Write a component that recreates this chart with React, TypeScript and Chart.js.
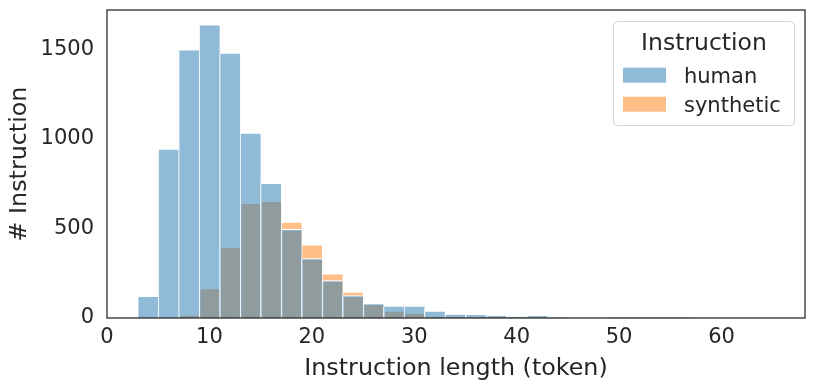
import React, { useEffect, useRef } from "react";
import { Chart, registerables } from "chart.js";

Chart.register(...registerables);

const binCenters = [4, 6, 8, 10, 12, 14, 16, 18, 20, 22, 24, 26, 28, 30, 32, 34, 36, 38, 40, 42, 44, 46, 48, 50, 52, 54, 56, 58, 60, 62, 64];
const humanCounts = [121, 943, 1497, 1637, 1480, 1032, 752, 495, 332, 209, 125, 80, 67, 67, 39, 22, 21, 15, 9, 15, 5, 1, 1, 4, 4, 4, 4, 1, 1, 0, 1];
const syntheticCounts = [0, 0, 17, 164, 394, 640, 652, 536, 409, 246, 145, 78, 39, 28, 11, 9, 5, 4, 2, 3, 3, 1, 1, 4, 4, 4, 4, 1, 1, 0, 1];
const xTicks = [0, 10, 20, 30, 40, 50, 60];
const yTicks = [0, 500, 1000, 1500];
const seriesNames = ["human", "synthetic"];
const legendTitle = "Instruction";
const xTitle = "Instruction length (token)";
const yTitle = "# Instruction";

const FONT = "'DejaVu Sans', sans-serif";
const TEXT = "#262626";
const BLUE = "rgba(31,119,180,0.5)";
const ORANGE = "rgba(255,127,14,0.5)";

const framePlugin = {
  id: "frame",
  afterDraw(chart: any) {
    const { ctx, chartArea } = chart;
    ctx.save();
    ctx.strokeStyle = TEXT;
    ctx.lineWidth = 1.25;
    ctx.strokeRect(chartArea.left, chartArea.top, chartArea.right - chartArea.left, chartArea.bottom - chartArea.top);
    ctx.restore();
  },
};

const legendPlugin = {
  id: "customLegend",
  afterDraw(chart: any) {
    const ctx = chart.ctx;
    ctx.save();
    const x0 = 613.5, y0 = 21.5, w = 181, h = 104, r = 4;
    ctx.beginPath();
    ctx.moveTo(x0 + r, y0);
    ctx.lineTo(x0 + w - r, y0);
    ctx.quadraticCurveTo(x0 + w, y0, x0 + w, y0 + r);
    ctx.lineTo(x0 + w, y0 + h - r);
    ctx.quadraticCurveTo(x0 + w, y0 + h, x0 + w - r, y0 + h);
    ctx.lineTo(x0 + r, y0 + h);
    ctx.quadraticCurveTo(x0, y0 + h, x0, y0 + h - r);
    ctx.lineTo(x0, y0 + r);
    ctx.quadraticCurveTo(x0, y0, x0 + r, y0);
    ctx.closePath();
    ctx.fillStyle = "rgba(255,255,255,0.8)";
    ctx.fill();
    ctx.strokeStyle = "#d6d6d6";
    ctx.lineWidth = 1;
    ctx.stroke();

    ctx.fillStyle = TEXT;
    ctx.textBaseline = "alphabetic";
    ctx.textAlign = "center";
    ctx.font = `23.5px ${FONT}`;
    ctx.fillText(legendTitle, x0 + w / 2, 50);

    const colors = ["rgb(143,187,217)", "rgb(255,191,134)"];
    const baselines = [82.7, 111.7];
    ctx.textAlign = "left";
    ctx.font = `21px ${FONT}`;
    seriesNames.forEach((name, i) => {
      ctx.fillStyle = colors[i];
      ctx.fillRect(623, baselines[i] - 15, 43, 15);
      ctx.fillStyle = TEXT;
      ctx.fillText(name, 684, baselines[i]);
    });
    ctx.restore();
  },
};

export default function App() {
  const ref = useRef<HTMLCanvasElement | null>(null);

  useEffect(() => {
    if (!ref.current) return;
    const chart = new Chart(ref.current, {
      type: "bar",
      data: {
        datasets: [
          {
            label: seriesNames[0],
            data: binCenters.map((x, i) => ({ x, y: humanCounts[i] })),
            backgroundColor: BLUE,
            borderColor: "#ffffff",
            borderWidth: { top: 1, left: 1, right: 0, bottom: 0 },
            borderSkipped: false,
            grouped: false,
            barPercentage: 1,
            categoryPercentage: 1,
          },
          {
            label: seriesNames[1],
            data: binCenters.map((x, i) => ({ x, y: syntheticCounts[i] })),
            backgroundColor: ORANGE,
            borderColor: "#ffffff",
            borderWidth: { top: 1, left: 1, right: 0, bottom: 0 },
            borderSkipped: false,
            grouped: false,
            barPercentage: 1,
            categoryPercentage: 1,
          },
        ],
      } as any,
      options: {
        animation: false,
        responsive: true,
        maintainAspectRatio: false,
        layout: { padding: { left: 0, top: 10, right: 9, bottom: 0 } },
        plugins: { legend: { display: false }, tooltip: { enabled: false } },
        scales: {
          x: {
            type: "linear",
            min: 0,
            max: 68.15,
            offset: false,
            grid: { display: false, drawTicks: false },
            border: { display: false },
            afterBuildTicks: (s: any) => {
              s.ticks = xTicks.map((v) => ({ value: v }));
            },
            afterFit: (s: any) => {
              s.height = 71;
              s.paddingLeft = 0;
              s.paddingRight = 0;
            },
            ticks: {
              color: TEXT,
              font: { family: FONT, size: 21 },
              padding: 7,
              maxRotation: 0,
              autoSkip: false,
              callback: (v: any) => String(v),
            },
            title: {
              display: true,
              text: xTitle,
              color: TEXT,
              font: { family: FONT, size: 23.8 },
              padding: { top: 0, bottom: 6 },
            },
          },
          y: {
            type: "linear",
            min: 0,
            max: 1720,
            grid: { display: false, drawTicks: false },
            border: { display: false },
            afterBuildTicks: (s: any) => {
              s.ticks = yTicks.map((v) => ({ value: v }));
            },
            afterFit: (s: any) => {
              s.width = 107;
              s.paddingTop = 0;
              s.paddingBottom = 0;
            },
            ticks: {
              color: TEXT,
              font: { family: FONT, size: 21 },
              padding: 13,
              autoSkip: false,
              callback: (v: any) => String(v),
            },
            title: {
              display: true,
              text: yTitle,
              color: TEXT,
              font: { family: FONT, size: 23.8 },
              padding: { top: 6, bottom: 0 },
            },
          },
        },
      } as any,
      plugins: [framePlugin, legendPlugin],
    });
    return () => chart.destroy();
  }, []);

  return (
    <div style={{ position: "absolute", left: 0, top: 0, width: 814, height: 389, background: "#fff" }}>
      <canvas ref={ref} />
    </div>
  );
}
